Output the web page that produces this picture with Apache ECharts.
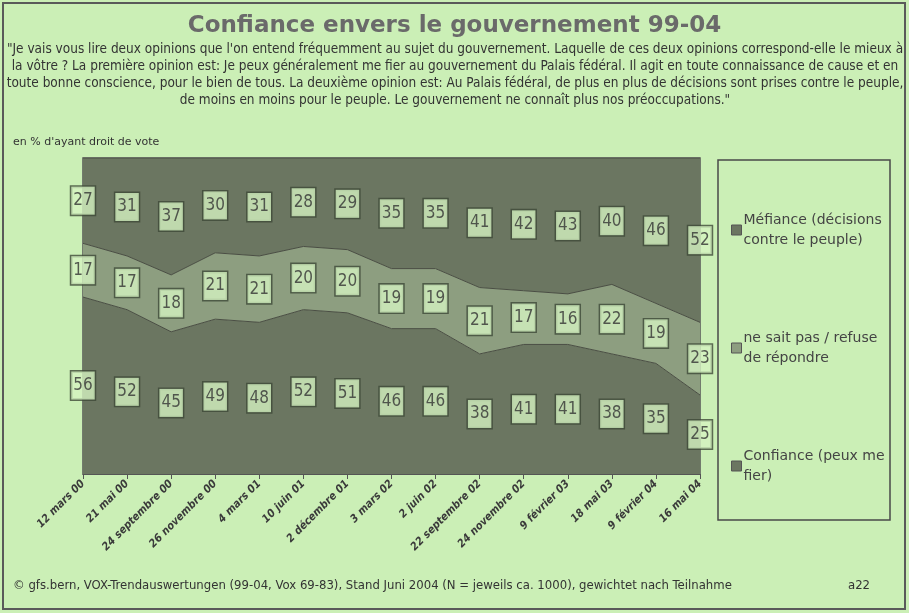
<!DOCTYPE html>
<html>
<head>
<meta charset="utf-8">
<script src="https://cdn.jsdelivr.net/npm/echarts@6/dist/echarts.min.js"></script>
<style>
  html, body { margin: 0; padding: 0; background: #cbefb6; }
  #main { width: 909px; height: 613px; }
</style>
</head>
<body>
<div id="main"></div>
<script>
// Survey dates (categories)
const categories = [
  "12 mars 00", "21 mai 00", "24 septembre 00", "26 novembre 00", "4 mars 01",
  "10 juin 01", "2 décembre 01", "3 mars 02", "2 juin 02", "22 septembre 02",
  "24 novembre 02", "9 février 03", "18 mai 03", "9 février 04", "16 mai 04"
];
// Shares in % (bottom to top)
const confiance = [56, 52, 45, 49, 48, 52, 51, 46, 46, 38, 41, 41, 38, 35, 25];
const nsp = [17, 17, 18, 21, 21, 20, 20, 19, 19, 21, 17, 16, 22, 19, 23];
const mefiance = [27, 31, 37, 30, 31, 28, 29, 35, 35, 41, 42, 43, 40, 46, 52];

const names = [
  "Confiance (peux me\nfier)",
  "ne sait pas / refuse\nde répondre",
  "Méfiance (décisions\ncontre le peuple)"
];
const colors = ["#6b7661", "#8d9e80", "#6b7661"];
const narrow = "'Liberation Sans Narrow', 'DejaVu Sans Condensed', sans-serif";

const question =
  "\"Je vais vous lire deux opinions que l'on entend fréquemment au sujet du gouvernement. Laquelle de ces deux opinions correspond-elle le mieux à\n" +
  "la vôtre ? La première opinion est: Je peux généralement me fier au gouvernement du Palais fédéral. Il agit en toute connaissance de cause et en\n" +
  "toute bonne conscience, pour le bien de tous. La deuxième opinion est: Au Palais fédéral, de plus en plus de décisions sont prises contre le peuple,\n" +
  "de moins en moins pour le peuple. Le gouvernement ne connaît plus nos préoccupations.\"";

let myChart = echarts.init(document.getElementById("main"));

// Label positions: middle of each band of the stack
const layers = [confiance, nsp, mefiance];
const labelSeries = layers.map((vals, k) => ({
  type: "scatter",
  symbolSize: 0,
  silent: true,
  z: 5,
  data: vals.map((v, i) => {
    let base = 0;
    for (let j = 0; j < k; j++) base += layers[j][i];
    return [i, base + v / 2, v];
  }),
  label: {
    show: true,
    position: "inside",
    formatter: (p) => p.value[2],
    fontFamily: narrow,
    fontSize: 17,
    color: "#333",
    backgroundColor: "#d4f3c0",
    borderColor: "#3f4a38",
    borderWidth: 1.5,
    padding: [6, 2, 5, 2]
  }
}));

const areaSeries = layers.map((vals, k) => ({
  name: names[k],
  type: "line",
  stack: "total",
  symbol: "none",
  data: vals,
  lineStyle: { color: "#4a4d44", width: 1 },
  areaStyle: { color: colors[k], opacity: 1 },
  itemStyle: { color: colors[k] }
}));

let options = {
  backgroundColor: "#cbefb6",
  title: [
    {
      text: "Confiance envers le gouvernement 99-04",
      left: "center",
      top: 10,
      textStyle: { fontFamily: "'DejaVu Sans', sans-serif", fontSize: 23, fontWeight: "bold", color: "#6a6a6a" }
    },
    {
      text: "en % d'ayant droit de vote",
      left: 8,
      top: 132,
      textStyle: { fontFamily: "'DejaVu Sans', sans-serif", fontSize: 11, fontWeight: "normal", color: "#333" }
    },
    {
      text: "© gfs.bern, VOX-Trendauswertungen (99-04, Vox 69-83), Stand Juni 2004 (N = jeweils ca. 1000), gewichtet nach Teilnahme",
      left: 8,
      top: 574,
      textStyle: { fontFamily: narrow, fontSize: 13, fontWeight: "normal", color: "#333" }
    },
    {
      text: "a22",
      left: 843,
      top: 574,
      textStyle: { fontFamily: narrow, fontSize: 13, fontWeight: "normal", color: "#333" }
    }
  ],
  graphic: [
    {
      type: "text",
      x: 455,
      y: 41,
      style: {
        text: question,
        align: "center",
        verticalAlign: "top",
        font: "13.5px " + narrow,
        fill: "#333",
        lineHeight: 17
      }
    },
    {
      type: "rect",
      shape: { x: 3, y: 3, width: 902, height: 606 },
      style: { fill: "none", stroke: "#5a5a5a", lineWidth: 2 }
    },
    {
      type: "rect",
      shape: { x: 718, y: 160, width: 172, height: 360 },
      style: { fill: "none", stroke: "#4a4a4a", lineWidth: 1.5 }
    }
  ],
  legend: {
    data: [names[2], names[1], names[0]],
    orient: "vertical",
    left: 726,
    top: 205,
    itemGap: 78,
    itemWidth: 10,
    itemHeight: 10,
    itemStyle: { borderColor: "#555", borderWidth: 1 },
    icon: "rect",
    selectedMode: false,
    textStyle: { fontFamily: "'DejaVu Sans', sans-serif", fontSize: 14, color: "#444", lineHeight: 20, padding: [0, 0, 0, -3] }
  },
  grid: {
    left: 83,
    right: 209,
    top: 158,
    bottom: 139,
    show: true,
    borderColor: "#555",
    borderWidth: 1.5
  },
  xAxis: {
    type: "category",
    data: categories,
    boundaryGap: false,
    axisLine: { lineStyle: { color: "#555" } },
    axisTick: { show: true, length: 5, lineStyle: { color: "#555" } },
    axisLabel: {
      interval: 0,
      rotate: 45,
      margin: 8,
      fontFamily: narrow,
      fontStyle: "italic",
      fontWeight: "bold",
      fontSize: 11,
      color: "#3a3a3a"
    }
  },
  yAxis: {
    type: "value",
    min: 0,
    max: 100,
    show: false,
    splitLine: { show: false }
  },
  series: [...areaSeries, ...labelSeries]
};
myChart.setOption(options);
</script>
</body>
</html>
